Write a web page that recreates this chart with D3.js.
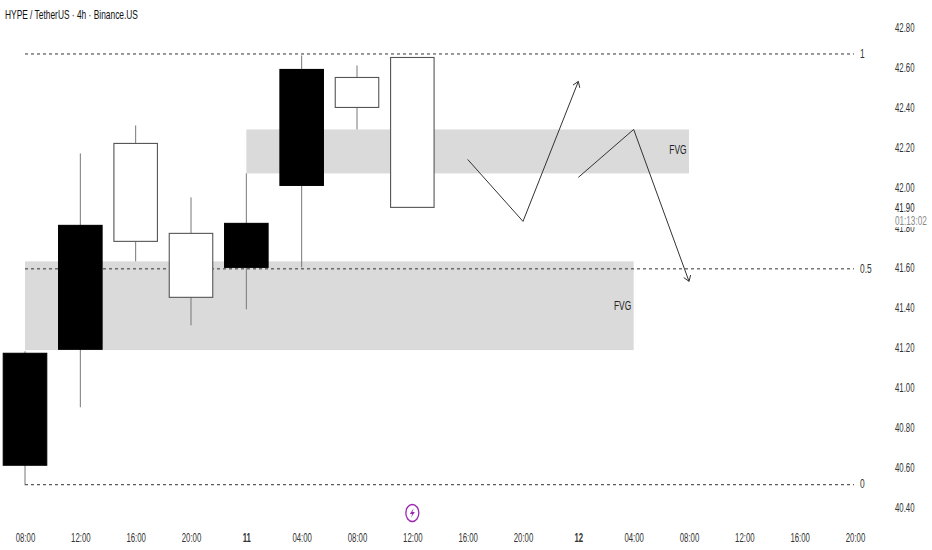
<!DOCTYPE html>
<html><head><meta charset="utf-8">
<script src="https://cdn.jsdelivr.net/npm/d3@7"></script>
<style>html,body{margin:0;padding:0;background:#fff}svg{display:block}</style>
</head><body><div id="c"></div>
<script>
const title = "HYPE / TetherUS · 4h · Binance.US";
const timeLabels = ["08:00","12:00","16:00","20:00","11","04:00","08:00","12:00","16:00","20:00","12","04:00","08:00","12:00","16:00","20:00"];
const boldLabels = ["11","12"];
const priceTicks = [42.8,42.6,42.4,42.2,42.0,41.8,41.6,41.4,41.2,41.0,40.8,40.6,40.4];
const candleOpen  = [41.17,41.19,41.73,41.45,41.60,42.01,42.40,41.90];
const candleClose = [40.61,41.81,42.22,41.77,41.82,42.59,42.55,42.65];
const candleHigh  = [41.18,42.17,42.31,41.95,42.07,42.66,42.61,42.65];
const candleLow   = [40.51,40.90,41.63,41.31,41.39,41.60,42.29,41.90];
const candleFill  = ["#000","#000","#fff","#fff","#000","#000","#fff","#fff"];
const zoneTop = [41.63,42.29], zoneBottom = [41.186,42.07], zoneStart = [0,4], zoneEnd = [11,12];
const zoneLabelIdx = [10.8,11.8], zoneLabelPrice = [41.41,42.19];
const levels = [42.67,41.595,40.515], levelNames = ["1","0.5","0"];
const arrowUpIdx = [8,9,10], arrowUpPrice = [42.14,41.83,42.53];
const arrowDownIdx = [10,11,12], arrowDownPrice = [42.05,42.29,41.53];

const W=932,H=550;
const x=d3.scaleLinear().domain([0,15]).range([25,855]);
const y=d3.scaleLinear().domain([42.8,40.4]).range([27.5,507.2]);
const svg=d3.select("#c").append("svg").attr("width",W).attr("height",H);
const font="'Liberation Sans',Arial,sans-serif";
// horizontally condense a text about its own x anchor
const narrow=(sel,f)=>sel.each(function(){
  const px=+this.getAttribute("x")||0;
  this.setAttribute("transform",`translate(${px},0) scale(${f},1) translate(${-px},0)`);
});

// zones
zoneTop.forEach((t,i)=>{
  svg.append("rect").attr("x",x(zoneStart[i])).attr("y",y(t)).attr("width",x(zoneEnd[i])-x(zoneStart[i])).attr("height",y(zoneBottom[i])-y(t)).attr("fill","#dadada");
});
// levels
levels.forEach((l,i)=>{
  svg.append("line").attr("x1",x(0)).attr("x2",x(15)-1).attr("y1",y(l)+.5).attr("y2",y(l)+.5).attr("stroke","#333").attr("stroke-width",1).attr("stroke-dasharray","3 3");
  svg.append("text").attr("x",x(15)+5).attr("y",y(l)).attr("dy","0.35em").attr("font-family",font).attr("font-size",12).attr("fill","#333").text(levelNames[i]).call(narrow,.7);
});
// candles
const bw=43.5;
candleOpen.forEach((o,i)=>{
  const c=x(i), c2=candleClose[i];
  svg.append("line").attr("x1",c).attr("x2",c).attr("y1",y(candleHigh[i])).attr("y2",y(candleLow[i])).attr("stroke","#777").attr("stroke-width",1);
  svg.append("rect").attr("x",c-bw/2).attr("width",bw).attr("y",y(Math.max(o,c2))).attr("height",Math.abs(y(o)-y(c2))).attr("fill",candleFill[i]).attr("stroke",candleFill[i]==="#000"?"#000":"#555").attr("stroke-width",1.1);
});
// arrows
const ln=d3.line().x(d=>x(d[0])).y(d=>y(d[1]));
function arrow(ix,pr){
  const pts=ix.map((v,i)=>[v,pr[i]]);
  svg.append("path").attr("d",ln(pts)).attr("fill","none").attr("stroke","#333").attr("stroke-width",1);
  const a=pts[pts.length-1],b=pts[pts.length-2];
  const ax=x(a[0]),ay=y(a[1]),ang=Math.atan2(ay-y(b[1]),ax-x(b[0]));
  const s=6.5;
  [-.6,.6].forEach(d=>svg.append("line").attr("x1",ax).attr("y1",ay).attr("x2",ax-s*Math.cos(ang+d)).attr("y2",ay-s*Math.sin(ang+d)).attr("stroke","#333").attr("stroke-width",1));
}
arrow(arrowUpIdx,arrowUpPrice);
arrow(arrowDownIdx,arrowDownPrice);
// FVG labels
zoneLabelIdx.forEach((v,i)=>{
  svg.append("text").attr("x",x(v)).attr("y",y(zoneLabelPrice[i])).attr("dy","0.35em").attr("text-anchor","middle").attr("font-family",font).attr("font-size",13.5).attr("fill","#222").text("FVG").call(narrow,.62);
});
// title
svg.append("text").attr("x",5).attr("y",19.5).attr("font-family",font).attr("font-size",13).attr("fill","#111").text(title).call(narrow,.645);

// axes
const yAxis=d3.axisRight(y).tickValues(priceTicks).tickSize(0).tickPadding(0).tickFormat(d3.format(".2f"));
const gy=svg.append("g").attr("transform","translate(895,0)").call(yAxis);
gy.select(".domain").remove();
gy.selectAll("text").attr("font-family",font).attr("font-size",12).attr("fill","#333").call(narrow,.65);
const xAxis=d3.axisBottom(x).tickValues(d3.range(16)).tickSize(0).tickPadding(0).tickFormat(i=>timeLabels[i]);
const gx=svg.append("g").attr("transform","translate(0,533)").call(xAxis);
gx.select(".domain").remove();
gx.selectAll("text").attr("font-family",font).attr("font-size",12).attr("fill","#333").attr("font-weight",d=>boldLabels.includes(timeLabels[d])?700:400).call(narrow,.65);

// countdown overlay
svg.append("rect").attr("x",893).attr("y",213).attr("width",38).attr("height",14).attr("fill","#fff");
svg.append("text").attr("x",895).attr("y",207.5).attr("dy","0.35em").attr("font-family",font).attr("font-size",12).attr("fill","#222").text("41.90").call(narrow,.65);
svg.append("text").attr("x",895).attr("y",220.5).attr("dy","0.35em").attr("font-family",font).attr("font-size",12).attr("fill","#888").text("01:13:02").call(narrow,.68);

// event icon
const ic=svg.append("g").attr("transform",`translate(${x(7)},513)`);
ic.append("ellipse").attr("rx",6.5).attr("ry",8.5).attr("fill","#fff").attr("stroke","#9c27b0").attr("stroke-width",1.3);
ic.append("path").attr("d","M1.5,-5 L-2.5,1 L0,1 L-1.5,5 L2.5,-1 L0,-1 Z").attr("fill","#9c27b0");
</script></body></html>
